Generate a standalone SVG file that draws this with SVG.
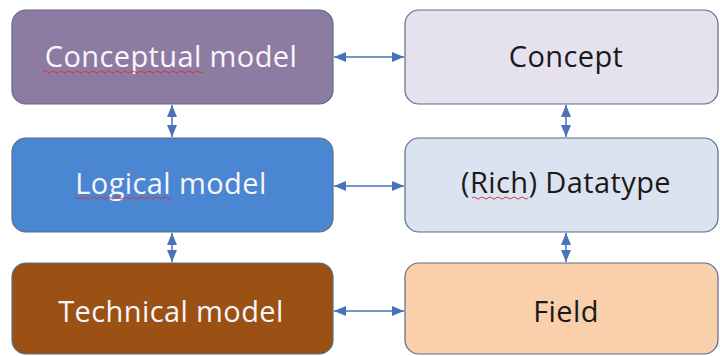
<svg xmlns="http://www.w3.org/2000/svg" width="720" height="356" viewBox="0 0 720 356">
  <style>
    .box { stroke: #5b6d88; stroke-width: 1.2; }
    .lbl { font-family: "Open Sans", "Noto Sans", sans-serif; font-size: 29px; font-weight: 500; letter-spacing: 0.4px; text-anchor: middle; }
    .light { fill: #f8f6fa; }
    .dark { fill: #1a1a1a; }
    .conn { stroke: #4a72b8; stroke-width: 1.5; fill: none; marker-start: url(#head); marker-end: url(#head); }
    .squig { stroke: #d23a3a; stroke-width: 1; fill: none; }
  </style>
  <defs>
    <marker id="head" viewBox="0 0 12 10" refX="12" refY="5" markerWidth="12" markerHeight="10" orient="auto-start-reverse" markerUnits="userSpaceOnUse">
      <path d="M0,0 L12,5 L0,10 z" fill="#4a72b8"/>
    </marker>
  </defs>
  <rect width="720" height="356" fill="#ffffff"/>

  <g id="conceptual-model">
    <rect class="box" x="12" y="10" width="321" height="94" rx="14" fill="#8d7ba2"/>
    <text class="lbl light" x="171" y="67">Conceptual model</text>
    <path class="squig" d="M43,72 q2,-2 4,0 t4,0 t4,0 t4,0 t4,0 t4,0 t4,0 t4,0 t4,0 t4,0 t4,0 t4,0 t4,0 t4,0 t4,0 t4,0 t4,0 t4,0 t4,0 t4,0 t4,0 t4,0 t4,0 t4,0 t4,0 t4,0 t4,0 t4,0 t4,0 t4,0 t4,0 t4,0 t4,0 t4,0 t4,0 t4,0 t4,0 t4,0 t4,0 t4,0"/>
  </g>

  <g id="logical-model">
    <rect class="box" x="12" y="138" width="321" height="94" rx="14" fill="#4b86d2"/>
    <text class="lbl light" x="171" y="194">Logical model</text>
    <path class="squig" d="M75,198 q2,-2 4,0 t4,0 t4,0 t4,0 t4,0 t4,0 t4,0 t4,0 t4,0 t4,0 t4,0 t4,0 t4,0 t4,0 t4,0 t4,0 t4,0 t4,0 t4,0 t4,0 t4,0 t4,0 t4,0 t4,0"/>
  </g>

  <g id="technical-model">
    <rect class="box" x="12" y="263" width="321" height="91" rx="14" fill="#9b5014"/>
    <text class="lbl light" x="171" y="322">Technical model</text>
  </g>

  <g id="concept">
    <rect class="box" x="405" y="10" width="313" height="94" rx="14" fill="#e6e1ef"/>
    <text class="lbl dark" x="566" y="67">Concept</text>
  </g>

  <g id="rich-datatype">
    <rect class="box" x="405" y="138" width="313" height="94" rx="14" fill="#dbe3f0"/>
    <text class="lbl dark" x="566" y="193">(Rich) Datatype</text>
    <path class="squig" d="M472,198 q2,-2 4,0 t4,0 t4,0 t4,0 t4,0 t4,0 t4,0 t4,0 t4,0 t4,0 t4,0 t4,0 t4,0 t4,0"/>
  </g>

  <g id="field">
    <rect class="box" x="405" y="263" width="313" height="91" rx="14" fill="#f9d0ab"/>
    <text class="lbl dark" x="566" y="322">Field</text>
  </g>

  <g id="connectors">
    <line class="conn" x1="334" y1="57" x2="404" y2="57"/>
    <line class="conn" x1="334" y1="186" x2="404" y2="186"/>
    <line class="conn" x1="334" y1="311" x2="404" y2="311"/>
    <line class="conn" x1="172" y1="105" x2="172" y2="137"/>
    <line class="conn" x1="172" y1="233" x2="172" y2="262"/>
    <line class="conn" x1="566" y1="105" x2="566" y2="137"/>
    <line class="conn" x1="566" y1="233" x2="566" y2="262"/>
  </g>
</svg>
